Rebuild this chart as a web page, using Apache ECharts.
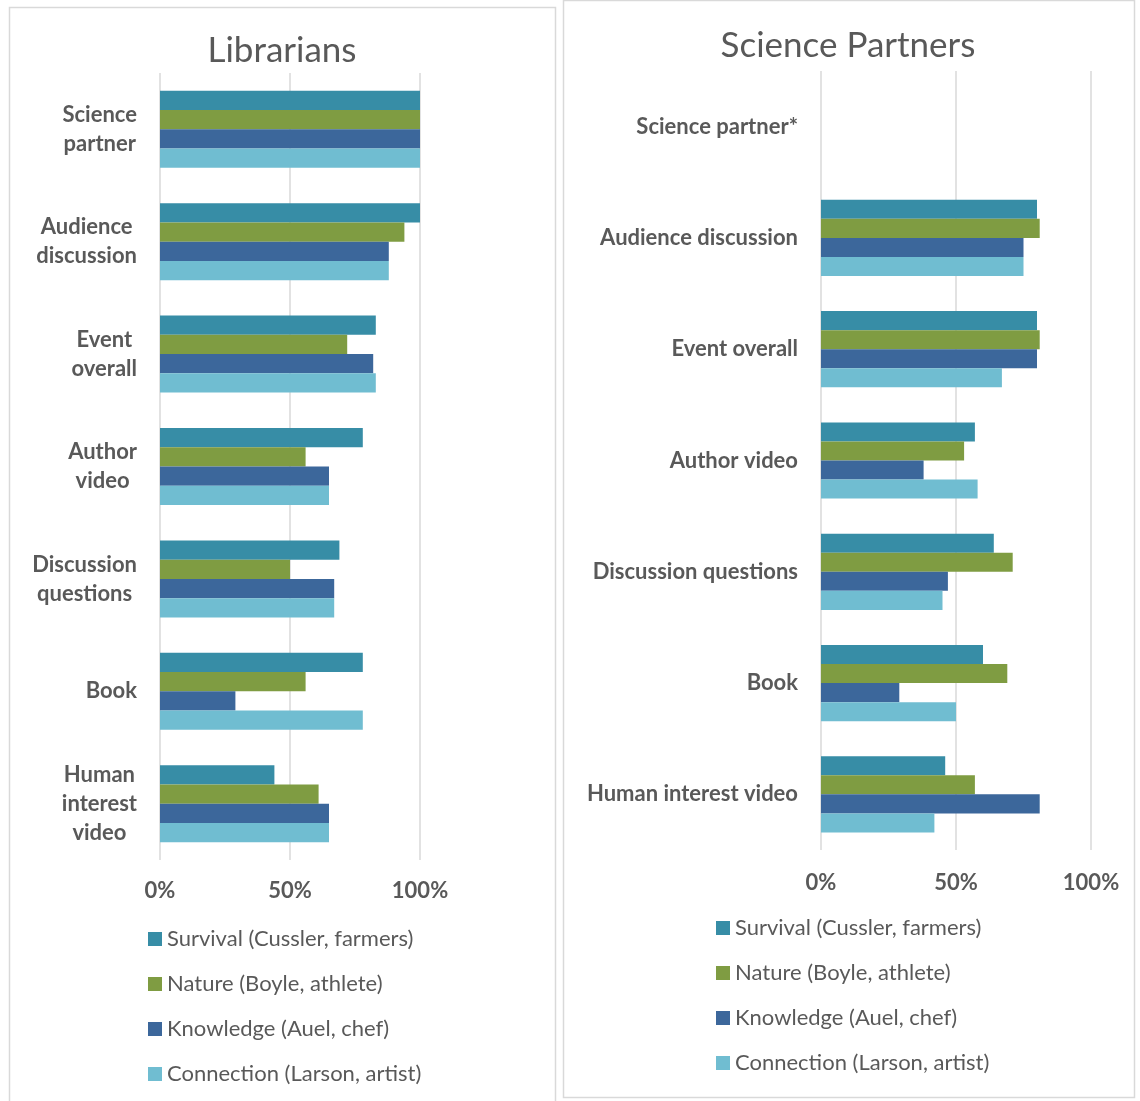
<!DOCTYPE html>
<html>
<head>
<meta charset="utf-8">
<script src="https://cdn.jsdelivr.net/npm/echarts@6/dist/echarts.min.js"></script>
<style>
html,body{margin:0;padding:0;background:#fff;}
#c{width:1140px;height:1101px;}
</style>
</head>
<body>
<div id="c"></div>
<script>
// ---- data ----
const seriesNames = ['Survival (Cussler, farmers)', 'Nature (Boyle, athlete)', 'Knowledge (Auel, chef)', 'Connection (Larson, artist)'];
const librarianCats = ['Science\npartner', 'Audience\ndiscussion', 'Event\noverall', 'Author\nvideo', 'Discussion\nquestions', 'Book', 'Human\ninterest\nvideo'];
const partnerCats = ['Science partner*', 'Audience discussion', 'Event overall', 'Author video', 'Discussion questions', 'Book', 'Human interest video'];
// values in percent, category order top -> bottom
const libSurvival   = [100, 100, 83, 78, 69, 78, 44];
const libNature     = [100, 94, 72, 56, 50, 56, 61];
const libKnowledge  = [100, 88, 82, 65, 67, 29, 65];
const libConnection = [100, 88, 83, 65, 67, 78, 65];
const spSurvival    = [null, 80, 80, 57, 64, 60, 46];
const spNature      = [null, 81, 81, 53, 71, 69, 57];
const spKnowledge   = [null, 75, 80, 38, 47, 29, 81];
const spConnection  = [null, 75, 67, 58, 45, 50, 42];
const xTicks = [0, 50, 100];

const colors = ['#378DA6', '#7F9C42', '#3C679B', '#70BDD1'];
const FONT = 'Lato, "Open Sans", sans-serif';
const TXT = '#595959';
const GRIDC = '#D9D9D9';

const libData = [libSurvival, libNature, libKnowledge, libConnection];
const spData = [spSurvival, spNature, spKnowledge, spConnection];

function xAxis(gridIndex, margin) {
  return {
    type: 'value', gridIndex, min: xTicks[0], max: xTicks[xTicks.length - 1], interval: xTicks[1] - xTicks[0],
    axisLine: {show: false}, axisTick: {show: false},
    splitLine: {show: true, lineStyle: {color: GRIDC, width: 1.5}},
    axisLabel: {formatter: '{value}%', fontFamily: FONT, fontSize: 22, fontWeight: 'bold', color: TXT, margin}
  };
}

const series = [];
seriesNames.forEach((n, i) => {
  series.push({name: n, type: 'bar', xAxisIndex: 0, yAxisIndex: 0, data: libData[i],
    itemStyle: {color: colors[i]}, barGap: '0%', barCategoryGap: '31.5%', silent: true});
});
seriesNames.forEach((n, i) => {
  series.push({name: n, type: 'bar', xAxisIndex: 1, yAxisIndex: 1, data: spData[i],
    itemStyle: {color: colors[i]}, barGap: '0%', barCategoryGap: '31.5%', silent: true});
});

const legendBase = {
  orient: 'vertical', icon: 'rect', itemWidth: 14, itemHeight: 14, itemGap: 23, padding: 0,
  data: seriesNames, selectedMode: false,
  textStyle: {fontFamily: FONT, fontSize: 22, color: TXT}
};

const option = {
  animation: false,
  backgroundColor: '#fff',
  graphic: [
    {type: 'rect', shape: {x: 9.5, y: 7.5, width: 546, height: 1110}, style: {fill: 'none', stroke: GRIDC, lineWidth: 1.5}, silent: true},
    {type: 'rect', shape: {x: 563.5, y: 0.5, width: 571, height: 1097}, style: {fill: 'none', stroke: GRIDC, lineWidth: 1.5}, silent: true}
  ],
  title: [
    {text: 'Librarians', left: 282, top: 33, textAlign: 'center', padding: 0,
      textStyle: {fontFamily: FONT, fontSize: 35, fontWeight: 'normal', color: TXT}},
    {text: 'Science Partners', left: 848, top: 28, textAlign: 'center', padding: 0,
      textStyle: {fontFamily: FONT, fontSize: 35, fontWeight: 'normal', color: TXT}}
  ],
  legend: [
    Object.assign({}, legendBase, {left: 148, top: 928}),
    Object.assign({}, legendBase, {left: 716, top: 917})
  ],
  grid: [
    {left: 160, width: 260, top: 73, height: 787},
    {left: 821, width: 270, top: 71, height: 779}
  ],
  xAxis: [xAxis(0, 20), xAxis(1, 22)],
  yAxis: [
    {type: 'category', gridIndex: 0, data: librarianCats, inverse: true,
      axisLine: {show: false}, axisTick: {show: false},
      axisLabel: {margin: 23, align: 'right',
        formatter: v => v.split('\n').map(s => '{c|' + s + '}').join('\n'),
        rich: {c: {align: 'center', fontFamily: FONT, fontSize: 22, fontWeight: 'bold', color: TXT, lineHeight: 29}}}},
    {type: 'category', gridIndex: 1, data: partnerCats, inverse: true,
      axisLine: {show: false}, axisTick: {show: false},
      axisLabel: {margin: 23, fontFamily: FONT, fontSize: 22, fontWeight: 'bold', color: TXT}}
  ],
  series
};

const chart = echarts.init(document.getElementById('c'), null, {renderer: 'canvas'});
chart.setOption(option);
</script>
</body>
</html>
